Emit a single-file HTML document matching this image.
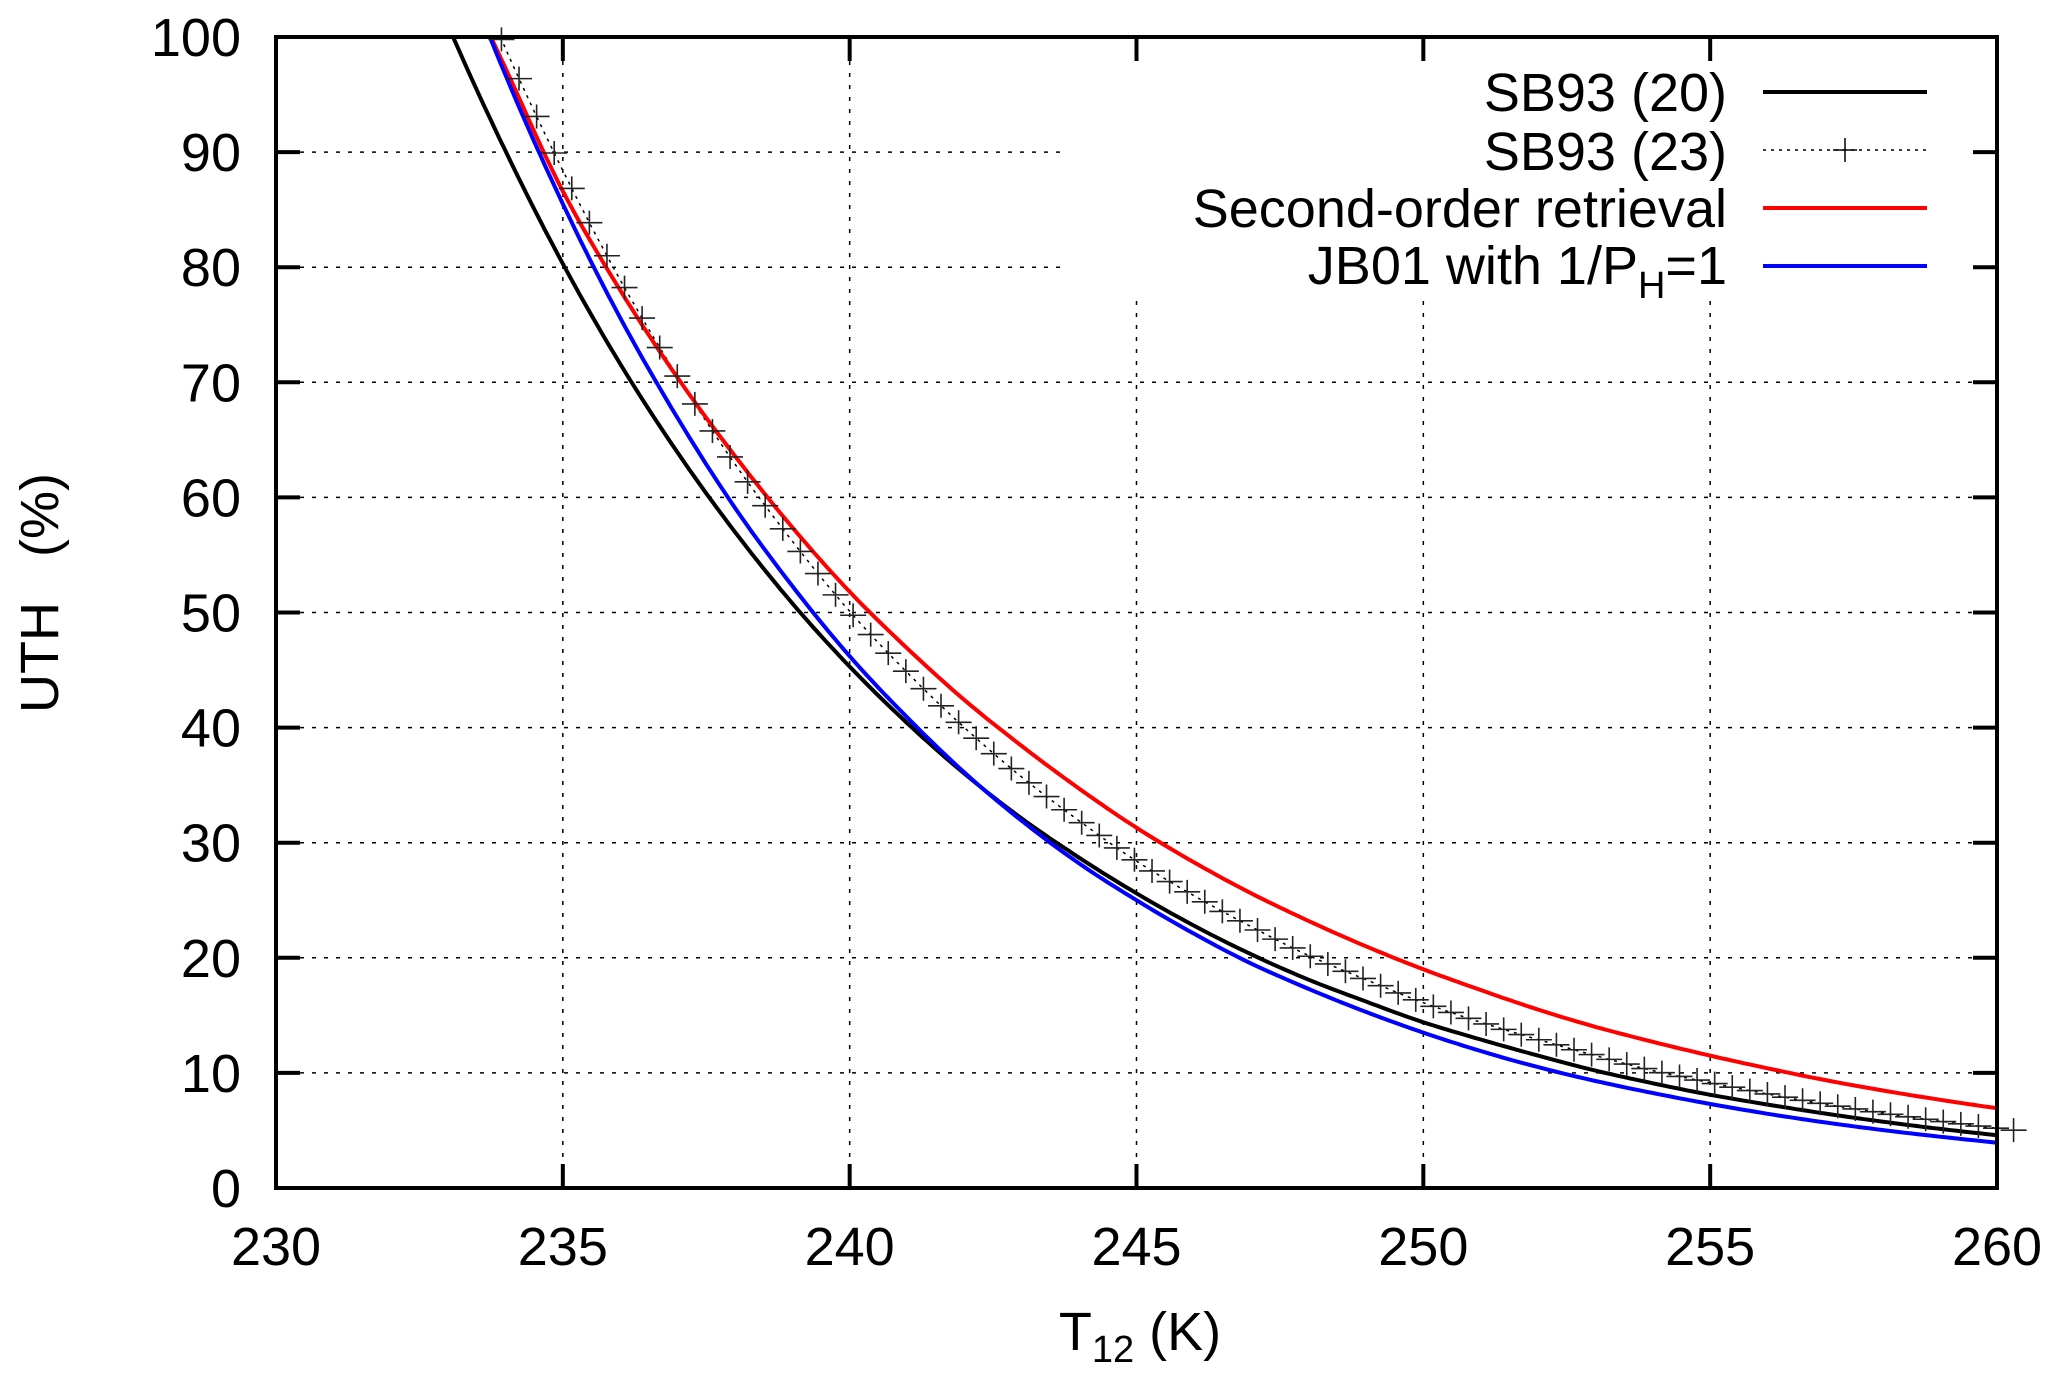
<!DOCTYPE html>
<html><head><meta charset="utf-8"><style>
html,body{margin:0;padding:0;background:#fff;}
svg{display:block;font-family:"Liberation Sans",sans-serif;}
</style></head><body>
<svg id="chart" width="2067" height="1381" viewBox="0 0 2067 1381" xmlns="http://www.w3.org/2000/svg">
<defs><clipPath id="clip"><rect x="276" y="37" width="1721" height="1151"/></clipPath></defs>
<g id="grid"></g>
<rect x="1068" y="40" width="926" height="255" fill="#fff"/>
<g id="ticks"></g>
<g id="series" clip-path="url(#clip)"></g>
<g id="markers"></g>
<rect x="276" y="37" width="1721" height="1151" fill="none" stroke="#000" stroke-width="4"/>
<g id="labels" font-size="54" fill="#000"></g>
<text x="1140" y="1350" font-size="54" text-anchor="middle">T<tspan font-size="38" dy="12">12</tspan><tspan dy="-12"> (K)</tspan></text>
<text transform="translate(58,593) rotate(-90)" font-size="54" text-anchor="middle" xml:space="preserve">UTH   (%)</text>
<g id="legend" font-size="54">
<text x="1727" y="111" text-anchor="end">SB93 (20)</text>
<line x1="1763" y1="92" x2="1927" y2="92" stroke="#000" stroke-width="4"/>
<text x="1727" y="170" text-anchor="end">SB93 (23)</text>
<line x1="1763" y1="150" x2="1927" y2="150" stroke="#000" stroke-width="1.5" stroke-dasharray="3,5"/>
<path d="M1833 150h24M1845 138v24" stroke="#000" stroke-width="1.5"/>
<text x="1727" y="227" text-anchor="end">Second-order retrieval</text>
<line x1="1763" y1="208" x2="1927" y2="208" stroke="#f00" stroke-width="4"/>
<text x="1727" y="284" text-anchor="end">JB01 with 1/P<tspan font-size="38" dy="14">H</tspan><tspan dy="-14">=1</tspan></text>
<line x1="1763" y1="266" x2="1927" y2="266" stroke="#00f" stroke-width="4"/>
</g>
</svg>
<script>
const xTicks=[230,235,240,245,250,255,260];
const yTicks=[0,10,20,30,40,50,60,70,80,90,100];
const temps=[233,234,235,236,237,238,239,240,241,242,243,244,245,246,247,248,249,250,251,252,253,254,255,256,257,258,259,260];
const sb93_20=[101,90.1,80.3,71.6,63.9,57.0,50.8,45.3,40.4,36.0,32.1,28.7,25.6,22.8,20.3,18.1,16.2,14.4,12.9,11.5,10.2,9.1,8.1,7.25,6.47,5.77,5.14,4.59];
const sb93_23=[110.9,99.0,88.4,78.9,70.5,62.9,56.2,50.1,44.8,40.0,35.7,31.9,28.4,25.4,22.7,20.2,18.1,16.1,14.4,12.9,11.5,10.2,9.15,8.17,7.29,6.51,5.81,5.19];
const secondOrder=[108,97.3,86.6,78.0,70.4,63.6,57.4,51.8,46.9,42.4,38.4,34.7,31.3,28.3,25.6,23.2,21.0,19.0,17.2,15.5,14.0,12.7,11.5,10.4,9.38,8.48,7.67,6.93];
const jb01=[109.4,96.7,85.5,75.6,66.9,59.1,52.3,46.2,40.9,36.1,31.9,28.2,25.0,22.1,19.5,17.3,15.3,13.5,11.9,10.5,9.3,8.25,7.3,6.45,5.7,5.04,4.46,3.94];
const NS="http://www.w3.org/2000/svg";
const L=276,R=1997,T=37,B=1188;
const xs=v=>L+(v-230)/30*(R-L);
const ys=v=>B-(v/100)*(B-T);
function mk(tag,attrs,parent){const e=document.createElementNS(NS,tag);for(const k in attrs)e.setAttribute(k,attrs[k]);parent.appendChild(e);return e;}
const grid=document.getElementById('grid'),ticks=document.getElementById('ticks'),labels=document.getElementById('labels');
xTicks.forEach(t=>{const x=xs(t);
 if(t>230&&t<260){const g=mk('line',{x1:x,y1:T,x2:x,y2:B,stroke:'#000','stroke-width':1.5,'stroke-dasharray':'4,8'},grid);
 
 }
 const a=mk('path',{d:`M${x} ${B}v-24M${x} ${T}v24`,stroke:'#000','stroke-width':4},ticks);
 
 
 const tx=mk('text',{x:x,y:1265,'text-anchor':'middle'},labels);tx.textContent=t;
 
 });
yTicks.forEach(t=>{const y=ys(t);
 if(t>0&&t<100){const g=mk('line',{x1:L,y1:y,x2:R,y2:y,stroke:'#000','stroke-width':1.5,'stroke-dasharray':'4,8'},grid);
 
 }
 const a=mk('path',{d:`M${L} ${y}h24M${R} ${y}h-24`,stroke:'#000','stroke-width':4},ticks);
 
 
 const tx=mk('text',{x:241,y:y+19,'text-anchor':'end'},labels);tx.textContent=t;
 
 });
function valAt(vals,t){
 const n=temps.length;
 let i=Math.min(Math.max(Math.floor(t-temps[0]),0),n-2);
 const f=(t-temps[i])/(temps[i+1]-temps[i]);
 const g=k=>Math.log(vals[Math.min(Math.max(k,0),n-1)]);
 let p0=g(i-1),p1=g(i),p2=g(i+1),p3=g(i+2);
 if(i===0)p0=2*p1-p2;
 if(i+2>n-1)p3=2*p2-p1;
 const f2=f*f,f3=f2*f;
 const v=0.5*((2*p1)+(-p0+p2)*f+(2*p0-5*p1+4*p2-p3)*f2+(-p0+3*p1-3*p2+p3)*f3);
 return Math.exp(v);}
function pathFor(vals){let d='';for(let t=temps[0];t<=temps[temps.length-1]+1e-9;t+=0.1){d+=(d?'L':'M')+xs(t).toFixed(1)+' '+ys(valAt(vals,t)).toFixed(1);}return d;}
const series=document.getElementById('series');
const p23=mk('path',{d:pathFor(sb93_23),fill:'none',stroke:'#000','stroke-width':1.5,'stroke-dasharray':'3,5'},series);


const p20=mk('path',{d:pathFor(sb93_20),fill:'none',stroke:'#000','stroke-width':4},series);


const pr=mk('path',{d:pathFor(secondOrder),fill:'none',stroke:'#f00','stroke-width':4},series);


const pb=mk('path',{d:pathFor(jb01),fill:'none',stroke:'#00f','stroke-width':4},series);


const markers=document.getElementById('markers');
for(let t=233.93;t<=260.3;t+=0.3065){const v=valAt(sb93_23,t);if(v>100.5)continue;const x=xs(t),y=ys(v);
 const m=mk('path',{d:`M${x-13} ${y}h26M${x} ${y-12}v24`,stroke:'#222','stroke-width':1.6},markers);
 
 }
</script>
</body></html>
